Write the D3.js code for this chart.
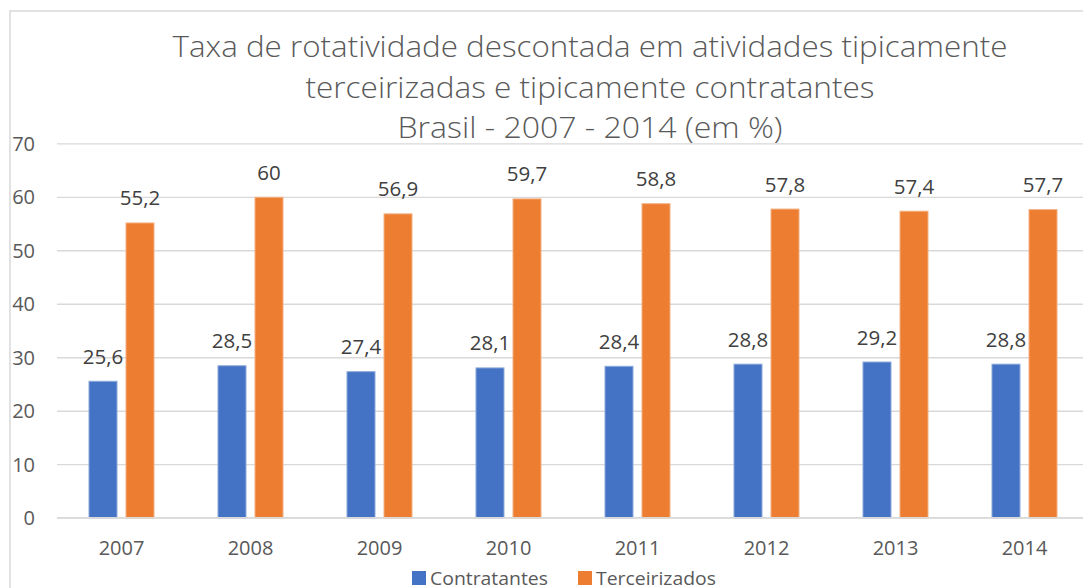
<!DOCTYPE html>
<html><head><meta charset="utf-8">
<script src="https://cdn.jsdelivr.net/npm/d3@7"></script>
<style>
html,body{margin:0;padding:0;background:#fff;overflow:hidden;}
svg{display:block;font-family:"Open Sans",sans-serif;}
</style></head>
<body>
<svg id="chart" width="1083" height="588"></svg>
<script>
const years = ["2007","2008","2009","2010","2011","2012","2013","2014"];
const seriesNames = ["Contratantes","Terceirizados"];
const contratantes = [25.6,28.5,27.4,28.1,28.4,28.8,29.2,28.8];
const terceirizados = [55.2,60,56.9,59.7,58.8,57.8,57.4,57.7];
const labelsC = ["25,6","28,5","27,4","28,1","28,4","28,8","29,2","28,8"];
const labelsT = ["55,2","60","56,9","59,7","58,8","57,8","57,4","57,7"];
const yTicks = [0,10,20,30,40,50,60,70];
const titleLines = ["Taxa de rotatividade descontada em atividades tipicamente","terceirizadas e tipicamente contratantes","Brasil - 2007 - 2014 (em %)"];
const colors = ["#4472C4","#ED7D31"];
const strokes = ["#8EAADB","#F4B183"];

const svg = d3.select("#chart");
const plot = {left:57, right:1089, top:143.3, bottom:517.7};

// frame
svg.append("path").attr("d",`M10,588 L10,11 L1083,11`).attr("fill","none").attr("stroke","#d9d9d9").attr("stroke-width",1.5);

// title
const titleY = [57,97.5,138];
const titleW = [835,569,385];
svg.append("g").selectAll("text").data(titleLines).join("text")
  .attr("x",590).attr("y",(d,i)=>titleY[i]).attr("text-anchor","middle")
  .attr("font-size",29.5).attr("font-weight",300).attr("fill","#595959")
  .attr("textLength",(d,i)=>titleW[i]).attr("lengthAdjust","spacingAndGlyphs")
  .text(d=>d);

const y = d3.scaleLinear().domain([0,70]).range([plot.bottom,plot.top]);
const x0 = d3.scaleBand().domain(years).range([plot.left,plot.right]).paddingInner(0).paddingOuter(0);
const x1 = d3.scaleBand().domain(seriesNames).range([0,x0.bandwidth()]).paddingInner(0.216).paddingOuter(0.851);

// gridlines
const yAxis = d3.axisLeft(y).tickValues(yTicks).tickSize(-(plot.right-plot.left)).tickPadding(22).tickFormat(d3.format("d"));
const ga = svg.append("g").attr("transform",`translate(${plot.left},0)`).call(yAxis);
ga.select(".domain").remove();
ga.selectAll(".tick line").attr("stroke","#d9d9d9").attr("stroke-width",1.3);
ga.selectAll(".tick text").attr("font-size",20).attr("fill","#595959").attr("font-family","Open Sans").attr("dy","0.36em");

// bars
const data = years.map((yr,i)=>({year:yr, vals:[contratantes[i],terceirizados[i]], labels:[labelsC[i],labelsT[i]]}));
const groups = svg.append("g").selectAll("g").data(data).join("g").attr("transform",d=>`translate(${x0(d.year)},0)`);
groups.selectAll("rect").data(d=>d.vals.map((v,k)=>({k,v}))).join("rect")
  .attr("x",d=>x1(seriesNames[d.k])+0.5).attr("width",x1.bandwidth()-1)
  .attr("y",d=>y(d.v)+0.5).attr("height",d=>y(0)-y(d.v)-0.5)
  .attr("fill",d=>colors[d.k]).attr("stroke",d=>strokes[d.k]).attr("stroke-width",1);
groups.selectAll("text").data(d=>d.vals.map((v,k)=>({k,v,l:d.labels[k]}))).join("text")
  .attr("x",d=>x1(seriesNames[d.k])+x1.bandwidth()/2).attr("y",d=>y(d.v)-17)
  .attr("text-anchor","middle").attr("font-size",20.5).attr("fill","#404040").text(d=>d.l);

// x axis line
svg.append("line").attr("x1",plot.left).attr("x2",plot.right).attr("y1",y(0)).attr("y2",y(0)).attr("stroke","#d9d9d9").attr("stroke-width",1.5);
const xAxis = d3.axisBottom(x0).tickSize(0).tickPadding(0);
const gx = svg.append("g").attr("transform",`translate(0,${plot.bottom})`).call(xAxis);
gx.select(".domain").remove();
gx.selectAll(".tick text").attr("font-size",20).attr("fill","#595959").attr("font-family","Open Sans").attr("dy",0).attr("y",37);

// legend
const legX = [412,578];
const legW = [118,120];
const leg = svg.append("g").selectAll("g").data(seriesNames).join("g").attr("transform",(d,i)=>`translate(${legX[i]},0)`);
leg.append("rect").attr("x",0).attr("y",571).attr("width",14).attr("height",14).attr("fill",(d,i)=>colors[i]);
leg.append("text").attr("x",18).attr("y",584.5).attr("font-size",18.5).attr("fill","#595959")
  .attr("textLength",(d,i)=>legW[i]).attr("lengthAdjust","spacingAndGlyphs").text(d=>d);
</script>
</body></html>
